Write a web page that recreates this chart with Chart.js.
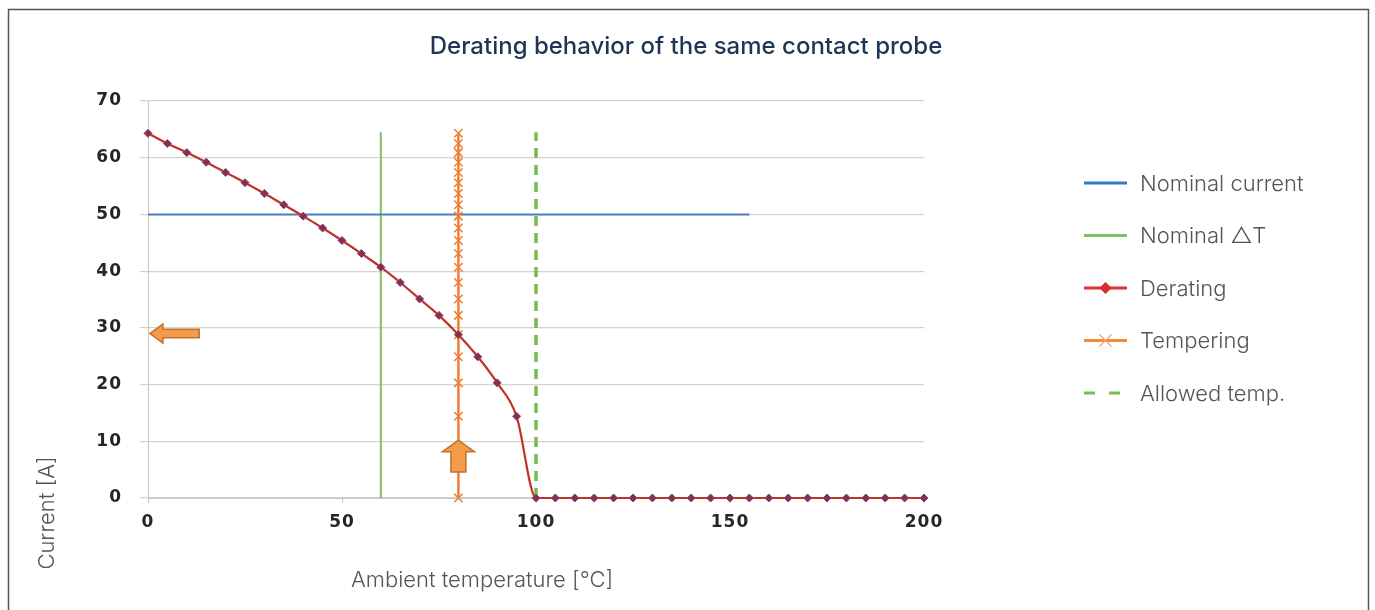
<!DOCTYPE html>
<html>
<head>
<meta charset="utf-8">
<script src="https://cdn.jsdelivr.net/npm/chart.js@4.4.1/dist/chart.umd.min.js"></script>
<style>
  html, body { margin: 0; padding: 0; background: #fff; }
</style>
</head>
<body>
<canvas id="derating-chart" width="1375" height="610"></canvas>
<script>
// ambient temperature steps (°C) for the derating curve
const temperatures = [0, 5, 10, 15, 20, 25, 30, 35, 40, 45, 50, 55, 60, 65, 70, 75, 80, 85, 90, 95,
    100, 105, 110, 115, 120, 125, 130, 135, 140, 145, 150, 155, 160, 165, 170, 175, 180, 185, 190, 195, 200];
// derating current (A)
const deratingCurrent = [64.3, 62.5, 60.9, 59.2, 57.4, 55.6, 53.7, 51.7, 49.7, 47.6, 45.4, 43.1, 40.7, 38.0, 35.1, 32.2, 28.8, 24.9, 20.3, 14.4,
    0, 0, 0, 0, 0, 0, 0, 0, 0, 0, 0, 0, 0, 0, 0, 0, 0, 0, 0, 0, 0];

// nominal current line
const nominalCurrentX = [0, 155];
const nominalCurrentY = [50, 50];
// nominal delta T (vertical)
const nominalDeltaX = [60, 60];
const nominalDeltaY = [0, 64.5];
// allowed temperature (vertical, dashed)
const allowedTempX = [100, 100];
const allowedTempY = [0, 64.5];
// tempering at 80 °C, marked at the derating current levels
const temperingTemp = 80;
const temperingCurrent = [0, 14.4, 20.3, 24.9, 28.8, 32.2, 35.1, 38.0, 40.7, 43.1, 45.4, 47.6, 49.7, 51.7, 53.7, 55.6, 57.4, 59.2, 60.9, 62.5, 64.3];

const xTicks = [0, 50, 100, 150, 200];
const yTicks = [0, 10, 20, 30, 40, 50, 60, 70];

const seriesNames = ["Nominal current", "Nominal \u25B3T", "Derating", "Tempering", "Allowed temp."];

const toPoints = (xs, ys) => xs.map((x, i) => ({ x: x, y: ys[i] }));

// orange arrows drawn on top of the plot (ends in data units)
const arrowNotes = [
    { from: { x: 13.2, y: 29 }, to: { x: 0.5, y: 29 } },
    { from: { x: 80, y: 4.6 }, to: { x: 80, y: 10.2 } }
];

const frameAndText = {
    id: "frameAndText",
    beforeDraw(chart) {
        const ctx = chart.ctx;
        ctx.save();
        ctx.fillStyle = "#fff";
        ctx.fillRect(0, 0, chart.width, chart.height);
        ctx.strokeStyle = "#555";
        ctx.lineWidth = 1.5;
        ctx.strokeRect(8.5, 9.5, 1360, 640);
        ctx.restore();
        // wider spacing for the tick labels only
        ctx.letterSpacing = "1px";
    },
    beforeDatasetsDraw(chart) {
        chart.ctx.letterSpacing = "0px";
    },
    afterDatasetsDraw(chart) {
        const ctx = chart.ctx;
        const xs = chart.scales.x, ys = chart.scales.y;
        ctx.save();
        ctx.fillStyle = "#f39a4b";
        ctx.strokeStyle = "#c4702c";
        ctx.lineWidth = 1.5;
        arrowNotes.forEach(a => {
            const x0 = xs.getPixelForValue(a.from.x), y0 = ys.getPixelForValue(a.from.y);
            const x1 = xs.getPixelForValue(a.to.x), y1 = ys.getPixelForValue(a.to.y);
            const ang = Math.atan2(y1 - y0, x1 - x0);
            const len = Math.hypot(x1 - x0, y1 - y0);
            const vertical = Math.abs(y1 - y0) > Math.abs(x1 - x0);
            const headLen = vertical ? 11.5 : 13;
            const headHalf = vertical ? 16 : 9.5;
            const bodyHalf = vertical ? 7.5 : 4.3;
            ctx.save();
            ctx.translate(x0, y0);
            ctx.rotate(ang);
            ctx.beginPath();
            ctx.moveTo(0, -bodyHalf);
            ctx.lineTo(len - headLen, -bodyHalf);
            ctx.lineTo(len - headLen, -headHalf);
            ctx.lineTo(len, 0);
            ctx.lineTo(len - headLen, headHalf);
            ctx.lineTo(len - headLen, bodyHalf);
            ctx.lineTo(0, bodyHalf);
            ctx.closePath();
            ctx.fill();
            ctx.stroke();
            ctx.restore();
        });
        ctx.restore();
    },
    afterDraw(chart) {
        const ctx = chart.ctx;
        ctx.save();
        ctx.letterSpacing = "0px";
        // title
        ctx.fillStyle = "#1d3556";
        ctx.font = "500 24px Inter";
        ctx.textAlign = "center";
        ctx.textBaseline = "middle";
        ctx.fillText("Derating behavior of the same contact probe", 686, 47);

        // axis titles
        ctx.fillStyle = "#555";
        ctx.font = "300 22px Inter";
        ctx.fillText("Ambient temperature [\u00B0C]", 482, 580);
        ctx.save();
        ctx.translate(47, 513);
        ctx.rotate(-Math.PI / 2);
        ctx.fillText("Current [A]", 0, 0);
        ctx.restore();

        // legend
        ctx.textAlign = "left";
        ctx.font = "300 22px Inter";
        chart.data.datasets.forEach((ds, i) => {
            const y = 183 + i * 52.5;
            ctx.save();
            ctx.strokeStyle = ds.legendColor || ds.borderColor;
            ctx.lineWidth = 3;
            ctx.setLineDash(ds.borderDash ? [11, 14] : []);
            ctx.beginPath();
            ctx.moveTo(1084, y);
            ctx.lineTo(1127, y);
            ctx.stroke();
            ctx.restore();
            if (ds.pointStyle === "rectRot") {
                ctx.fillStyle = "#d92b2b";
                ctx.beginPath();
                ctx.moveTo(1105.5, y - 6);
                ctx.lineTo(1111.5, y);
                ctx.lineTo(1105.5, y + 6);
                ctx.lineTo(1099.5, y);
                ctx.closePath();
                ctx.fill();
            } else if (ds.pointStyle === "crossRot") {
                ctx.strokeStyle = "#f5a070";
                ctx.lineWidth = 1.2;
                ctx.beginPath();
                ctx.moveTo(1099.5, y - 6); ctx.lineTo(1111.5, y + 6);
                ctx.moveTo(1111.5, y - 6); ctx.lineTo(1099.5, y + 6);
                ctx.stroke();
            }
            ctx.fillStyle = "#555";
            ctx.fillText(seriesNames[i], 1140, y + 1);
        });
        ctx.restore();
    }
};

new Chart(document.getElementById("derating-chart"), {
    type: "line",
    data: {
        datasets: [
            {
                label: seriesNames[0],
                data: toPoints(nominalCurrentX, nominalCurrentY),
                borderColor: "#4a7fc1",
                legendColor: "#2f7bd0",
                borderWidth: 2,
                pointRadius: 0,
                order: 3
            },
            {
                label: seriesNames[1],
                data: toPoints(nominalDeltaX, nominalDeltaY),
                borderColor: "#7dc25e",
                borderWidth: 2,
                pointRadius: 0,
                order: 4
            },
            {
                label: seriesNames[2],
                data: toPoints(temperatures, deratingCurrent),
                borderColor: "#c0332a",
                legendColor: "#e03030",
                borderWidth: 2.2,
                cubicInterpolationMode: "monotone",
                pointStyle: "rectRot",
                pointRadius: 4,
                pointBackgroundColor: "#8e2c4a",
                pointBorderColor: "#7a4a78",
                pointBorderWidth: 1,
                order: 0
            },
            {
                label: seriesNames[3],
                data: temperingCurrent.map(c => ({ x: temperingTemp, y: c })),
                borderColor: "#ee8034",
                legendColor: "#f08a3c",
                borderWidth: 2.5,
                pointStyle: "crossRot",
                pointRadius: 6,
                pointBorderColor: "#ee8034",
                pointBorderWidth: 1.5,
                order: 1
            },
            {
                label: seriesNames[4],
                data: toPoints(allowedTempX, allowedTempY),
                borderColor: "#72c04a",
                borderWidth: 3.5,
                borderDash: [10, 7],
                pointRadius: 0,
                order: 2
            }
        ]
    },
    options: {
        responsive: false,
        animation: false,
        clip: false,
        layout: { padding: { left: 0, top: 101, right: 451, bottom: 0 } },
        plugins: {
            legend: { display: false },
            tooltip: { enabled: false }
        },
        scales: {
            x: {
                type: "linear",
                min: 0,
                max: 200,
                afterFit: s => { s.height = 112; },
                afterBuildTicks: s => { s.ticks = xTicks.map(v => ({ value: v })); },
                grid: { drawOnChartArea: false, drawTicks: true, tickLength: 5, color: "#c8c4c4" },
                border: { display: true, color: "#c8c4c4", width: 1 },
                ticks: {
                    padding: 9,
                    color: "#262626",
                    font: { family: "DejaVu Sans", size: 17, weight: "bold" }
                }
            },
            y: {
                min: 0,
                max: 70,
                afterFit: s => { s.width = 148; },
                afterBuildTicks: s => { s.ticks = yTicks.map(v => ({ value: v })); },
                grid: { color: "#d6d2d2", lineWidth: 1.2, tickLength: 8 },
                border: { display: true, color: "#c8c4c4", width: 1 },
                ticks: {
                    padding: 18,
                    color: "#262626",
                    font: { family: "DejaVu Sans", size: 17, weight: "bold" }
                }
            }
        }
    },
    plugins: [frameAndText]
});
</script>
</body>
</html>
